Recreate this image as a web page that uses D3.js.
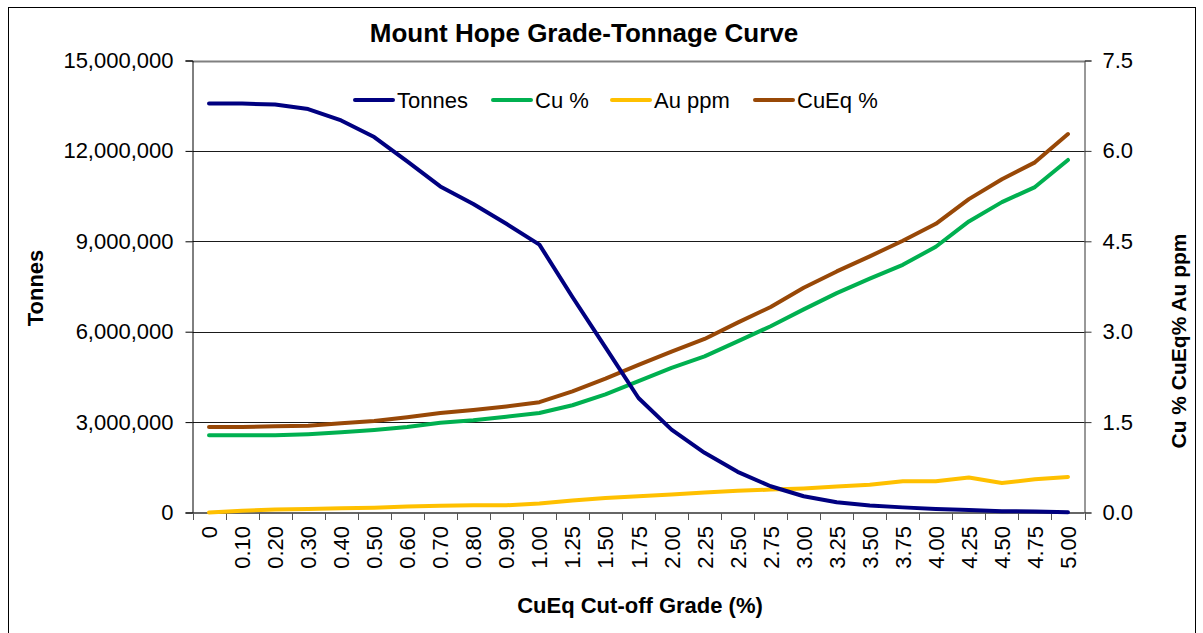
<!DOCTYPE html>
<html>
<head>
<meta charset="utf-8">
<script src="https://cdn.jsdelivr.net/npm/d3@7"></script>
<style>
  body { margin: 0; background: #fff; }
  svg { display: block; font-family: "Liberation Sans", Arial, sans-serif; }
</style>
</head>
<body>
<script>
const grades = ['0', '0.10', '0.20', '0.30', '0.40', '0.50', '0.60', '0.70', '0.80', '0.90', '1.00',
  '1.25', '1.50', '1.75', '2.00', '2.25', '2.50', '2.75', '3.00', '3.25', '3.50', '3.75', '4.00',
  '4.25', '4.50', '4.75', '5.00'];

const tonnes = [13570000, 13570000, 13540000, 13390000, 13010000, 12460000, 11650000, 10820000,
  10240000, 9580000, 8890000, 7150000, 5480000, 3800000, 2750000, 1980000, 1350000, 870000,
  540000, 340000, 230000, 170000, 120000, 80000, 45000, 30000, 10000];

const cu = [1.28, 1.28, 1.28, 1.30, 1.33, 1.37, 1.42, 1.49, 1.53, 1.59, 1.65, 1.78, 1.96, 2.18,
  2.40, 2.59, 2.84, 3.09, 3.37, 3.64, 3.88, 4.11, 4.41, 4.83, 5.15, 5.40, 5.85];

const au = [0.0, 0.03, 0.05, 0.06, 0.07, 0.08, 0.10, 0.11, 0.12, 0.12, 0.15, 0.20, 0.24, 0.27,
  0.30, 0.33, 0.36, 0.38, 0.40, 0.43, 0.46, 0.52, 0.52, 0.58, 0.49, 0.55, 0.59];

const cuEq = [1.42, 1.42, 1.43, 1.44, 1.48, 1.52, 1.58, 1.65, 1.70, 1.76, 1.83, 2.01, 2.22, 2.45,
  2.67, 2.88, 3.15, 3.41, 3.73, 4.00, 4.25, 4.51, 4.79, 5.20, 5.53, 5.81, 6.28];

const leftTicks = [0, 3000000, 6000000, 9000000, 12000000, 15000000];
const rightTicks = [0, 1.5, 3.0, 4.5, 6.0, 7.5];

const series = [
  { name: 'Tonnes', values: tonnes, axis: 'left', color: '#000080' },
  { name: 'Cu %', values: cu, axis: 'right', color: '#00B050' },
  { name: 'Au ppm', values: au, axis: 'right', color: '#FFC000' },
  { name: 'CuEq %', values: cuEq, axis: 'right', color: '#984807' }
];

const width = 1203;
const height = 633;
const margin = { left: 192.5, right: 118.5, top: 60.5, bottom: 120 };

const svg = d3.select('body').append('svg')
  .attr('width', width)
  .attr('height', height);

// outer frame
svg.append('rect')
  .attr('x', 8.5).attr('y', 7.5)
  .attr('width', 1187).attr('height', 640)
  .attr('fill', 'none').attr('stroke', '#000').attr('stroke-width', 1);

const x = d3.scaleBand()
  .domain(grades)
  .range([margin.left, width - margin.right]);

const yLeft = d3.scaleLinear()
  .domain([0, 15000000])
  .range([height - margin.bottom - 0.5, margin.top]);

const yRight = d3.scaleLinear()
  .domain([0, 7.5])
  .range([height - margin.bottom - 0.5, margin.top]);

const cx = d => x(d) + x.bandwidth() / 2;

// gridlines
svg.append('g')
  .selectAll('line')
  .data(leftTicks.slice(1))
  .join('line')
  .attr('x1', margin.left)
  .attr('x2', width - margin.right)
  .attr('y1', d => Math.round(yLeft(d)) + 0.5)
  .attr('y2', d => Math.round(yLeft(d)) + 0.5)
  .attr('stroke', (d, i) => (i === leftTicks.length - 2 ? '#808080' : '#1a1a1a'))
  .attr('stroke-width', (d, i) => (i === leftTicks.length - 2 ? 2 : 1));

// left axis
svg.append('g')
  .attr('transform', `translate(${margin.left},0)`)
  .call(d3.axisLeft(yLeft).tickValues(leftTicks).tickSize(7).tickPadding(12)
    .tickFormat(d3.format(',')))
  .call(g => g.selectAll('text').style('font-size', '22px').attr('fill', '#000'))
  .call(g => g.selectAll('line,path').attr('stroke', '#000'));

// right axis
svg.append('g')
  .attr('transform', `translate(${width - margin.right},0)`)
  .call(d3.axisRight(yRight).tickValues(rightTicks).tickSize(7).tickPadding(11)
    .tickFormat(d3.format('.1f')))
  .call(g => g.selectAll('text').style('font-size', '22px').attr('fill', '#000'))
  .call(g => g.selectAll('line,path').attr('stroke', '#333'));

// bottom axis line with tick marks at category boundaries
const baseY = height - margin.bottom;
svg.append('line')
  .attr('x1', margin.left).attr('x2', width - margin.right)
  .attr('y1', baseY).attr('y2', baseY)
  .attr('stroke', '#333').attr('stroke-width', 1.5);

svg.append('g')
  .selectAll('line')
  .data(grades.concat(['end']))
  .join('line')
  .attr('x1', (d, i) => Math.round(margin.left + i * x.step()) + 0.5)
  .attr('x2', (d, i) => Math.round(margin.left + i * x.step()) + 0.5)
  .attr('y1', baseY)
  .attr('y2', baseY + 7)
  .attr('stroke', '#555');

svg.append('g')
  .selectAll('text')
  .data(grades)
  .join('text')
  .attr('transform', d => `translate(${cx(d) + 8},${baseY + 13}) rotate(-90)`)
  .attr('text-anchor', 'end')
  .style('font-size', '22px')
  .text(d => d);

// lines
const line = s => d3.line()
  .x((d, i) => cx(grades[i]))
  .y(d => (s.axis === 'left' ? yLeft(d) : yRight(d)));

const drawOrder = [series[1], series[2], series[3], series[0]];
svg.append('g')
  .selectAll('path')
  .data(drawOrder)
  .join('path')
  .attr('d', s => line(s)(s.values))
  .attr('fill', 'none')
  .attr('stroke', s => s.color)
  .attr('stroke-width', 4)
  .attr('stroke-linejoin', 'round')
  .attr('stroke-linecap', 'round');

// legend
const legendX = [355, 493, 612, 755];
const legend = svg.append('g')
  .selectAll('g')
  .data(series)
  .join('g')
  .attr('transform', (d, i) => `translate(${legendX[i]},100)`);

legend.append('line')
  .attr('x1', 0).attr('x2', 38)
  .attr('stroke', d => d.color)
  .attr('stroke-width', 4)
  .attr('stroke-linecap', 'round');

legend.append('text')
  .attr('x', 42)
  .attr('dy', '0.35em')
  .style('font-size', '22px')
  .text(d => d.name);

// titles
svg.append('text')
  .attr('x', 584).attr('y', 42)
  .attr('text-anchor', 'middle')
  .style('font-size', '26px')
  .style('font-weight', 'bold')
  .text('Mount Hope Grade-Tonnage Curve');

svg.append('text')
  .attr('x', 640).attr('y', 613)
  .attr('text-anchor', 'middle')
  .style('font-size', '22px')
  .style('font-weight', 'bold')
  .text('CuEq Cut-off Grade (%)');

svg.append('text')
  .attr('transform', 'translate(43,288) rotate(-90)')
  .attr('text-anchor', 'middle')
  .style('font-size', '22px')
  .style('font-weight', 'bold')
  .text('Tonnes');

svg.append('text')
  .attr('transform', 'translate(1186,341) rotate(-90)')
  .attr('text-anchor', 'middle')
  .style('font-size', '21px')
  .style('font-weight', 'bold')
  .text('Cu % CuEq% Au ppm');
</script>
</body>
</html>
